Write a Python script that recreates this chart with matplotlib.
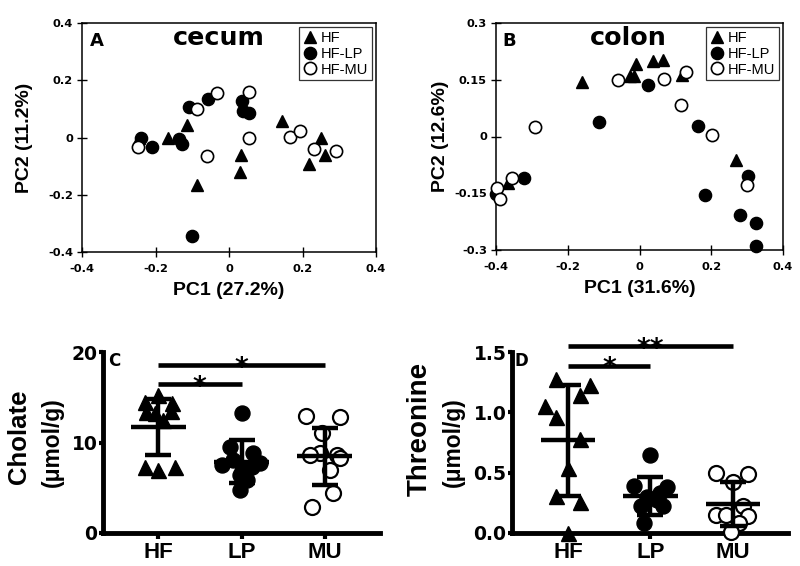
import matplotlib
matplotlib.use("Agg")
import matplotlib.pyplot as plt
import numpy as np
from matplotlib.lines import Line2D

plt.rcParams['font.family'] = ['Liberation Sans', 'DejaVu Sans']

# ---------------- data ----------------
# Panel A (cecum) PCA scores
a_hf_x = [-0.245, -0.165, -0.115, -0.086, 0.033, 0.030, 0.143, 0.218, 0.249, 0.260]
a_hf_y = [0.000, 0.000, 0.045, -0.165, -0.060, -0.120, 0.057, -0.092, -0.001, -0.060]
a_lp_x = [-0.239, -0.210, -0.137, -0.128, -0.110, -0.057, 0.036, 0.038, 0.055, -0.102]
a_lp_y = [0.000, -0.034, -0.005, -0.022, 0.108, 0.135, 0.127, 0.091, 0.085, -0.345]
a_mu_x = [-0.247, -0.088, -0.032, -0.061, 0.054, 0.054, 0.166, 0.193, 0.230, 0.290]
a_mu_y = [-0.034, 0.099, 0.155, -0.066, 0.158, 0.000, 0.001, 0.021, -0.041, -0.047]

# Panel B (colon) PCA scores
b_hf_x = [-0.160, -0.026, -0.011, -0.014, 0.037, 0.066, 0.119, 0.268, -0.367]
b_hf_y = [0.144, 0.159, 0.191, 0.159, 0.200, 0.201, 0.163, -0.061, -0.122]
b_lp_x = [-0.399, -0.321, -0.113, 0.025, 0.164, 0.182, 0.303, 0.280, 0.324, 0.324]
b_lp_y = [-0.153, -0.109, 0.039, 0.135, 0.027, -0.155, -0.104, -0.208, -0.228, -0.289]
b_mu_x = [-0.397, -0.390, -0.355, -0.290, -0.059, 0.068, 0.130, 0.117, 0.203, 0.300]
b_mu_y = [-0.135, -0.165, -0.111, 0.024, 0.149, 0.152, 0.170, 0.083, 0.004, -0.127]

legend_labels = ["HF", "HF-LP", "HF-MU"]
categories = ["HF", "LP", "MU"]

# Panel C: cholate (umol/g)
c_hf = [15.2, 14.5, 14.4, 13.4, 13.5, 13.3, 12.5, 7.3, 7.0, 7.3]
c_hf_dx = [0.0, -0.16, 0.17, -0.14, 0.15, -0.04, 0.06, -0.16, 0.0, 0.20]
c_lp = [13.3, 9.5, 8.8, 8.1, 7.7, 7.5, 7.3, 6.9, 6.4, 5.9, 4.8]
c_lp_dx = [0.0, -0.14, 0.14, -0.10, 0.22, -0.23, 0.12, 0.0, -0.02, 0.06, -0.02]
c_mu = [12.9, 12.8, 11.0, 8.8, 8.6, 8.6, 8.3, 7.0, 4.4, 2.9]
c_mu_dx = [-0.23, 0.18, -0.03, -0.06, -0.18, 0.14, 0.18, 0.06, 0.10, -0.15]
c_mean = [11.7, 7.9, 8.5]
c_sd = [3.1, 2.35, 3.15]
c_sig = [(0, 1, 16.46, "*"), (0, 2, 18.56, "*")]

# Panel D: threonine (umol/g)
d_hf = [1.28, 1.23, 1.14, 1.05, 0.96, 0.78, 0.54, 0.31, 0.26, 0.00]
d_hf_dx = [-0.14, 0.27, 0.14, -0.28, -0.14, 0.14, 0.0, -0.14, 0.14, 0.0]
d_lp = [0.65, 0.39, 0.38, 0.33, 0.30, 0.27, 0.22, 0.22, 0.08]
d_lp_dx = [0.0, -0.20, 0.20, 0.12, -0.04, 0.08, -0.12, 0.15, -0.08]
d_mu = [0.50, 0.49, 0.42, 0.22, 0.15, 0.15, 0.14, 0.08, 0.01]
d_mu_dx = [-0.20, 0.19, 0.0, 0.12, -0.20, -0.08, 0.19, 0.08, -0.02]
d_mean = [0.767, 0.307, 0.24]
d_sd = [0.46, 0.155, 0.18]
d_sig = [(0, 1, 1.386, "*"), (0, 2, 1.55, "**")]

# ---------------- figure ----------------
W, H = 800, 566
fig = plt.figure(figsize=(W / 100, H / 100), dpi=100)


def px_axes(l, t, r, b):
    return fig.add_axes([l / W, 1 - b / H, (r - l) / W, (b - t) / H])


TICKFONT = dict(family='DejaVu Sans', weight='bold')


def pca_panel(ax, hx, hy, lx, ly, mx, my, ylim, yticks, letter, letter_x,
              title, title_x, xlabel, ylabel):
    ms = 8.8
    ax.plot(hx, hy, '^', color='black', ms=ms, clip_on=False, zorder=3)
    ax.plot(lx, ly, 'o', color='black', ms=ms, clip_on=False, zorder=3)
    ax.plot(mx, my, 'o', mfc='white', mec='black', mew=1.2, ms=ms,
            clip_on=False, zorder=4)
    ax.set_xlim(-0.4, 0.4)
    ax.set_ylim(*ylim)
    xt = [-0.4, -0.2, 0, 0.2, 0.4]
    ax.set_xticks(xt)
    ax.set_xticklabels(['%g' % v for v in xt], **TICKFONT, fontsize=8.2)
    ax.set_yticks(yticks)
    ax.set_yticklabels(['%g' % v for v in yticks], **TICKFONT, fontsize=8.2)
    ax.tick_params(direction='inout', length=7, width=1, pad=3)
    ax.tick_params(axis='x', pad=5)
    for s in ax.spines.values():
        s.set_linewidth(1.1)
    ax.set_xlabel(xlabel, fontsize=14, fontweight='bold')
    ax.set_ylabel(ylabel, fontsize=14, fontweight='bold')
    ax.xaxis.set_label_coords(0.5, -0.13)
    ax.yaxis.set_label_coords(-0.165, 0.5)
    ax.text(letter_x, 0.9, letter, transform=ax.transAxes, fontsize=13,
            fontweight='bold', family='DejaVu Sans', va='baseline', ha='left')
    ax.text(title_x, 0.903, title, transform=ax.transAxes, fontsize=18.3,
            fontweight='bold', family='DejaVu Sans', va='baseline', ha='center')
    handles = [Line2D([], [], marker='^', ls='none', color='black', ms=ms),
               Line2D([], [], marker='o', ls='none', color='black', ms=ms),
               Line2D([], [], marker='o', ls='none', mfc='white', mec='black',
                      mew=1.2, ms=ms)]
    leg = ax.legend(handles, legend_labels, loc='upper right', fontsize=10.5,
                    frameon=True, fancybox=False, edgecolor='black',
                    borderaxespad=0.3, borderpad=0.25, labelspacing=0.12,
                    handlelength=1.0, handletextpad=0.25)
    leg.get_frame().set_linewidth(0.9)


axA = px_axes(82, 23, 376, 252)
pca_panel(axA, a_hf_x, a_hf_y, a_lp_x, a_lp_y, a_mu_x, a_mu_y, (-0.4, 0.4),
          [-0.4, -0.2, 0, 0.2, 0.4], "A", 0.027, "cecum", 0.466,
          "PC1 (27.2%)", "PC2 (11.2%)")

axB = px_axes(496, 23, 783, 250)
pca_panel(axB, b_hf_x, b_hf_y, b_lp_x, b_lp_y, b_mu_x, b_mu_y, (-0.3, 0.3),
          [-0.3, -0.15, 0, 0.15, 0.3], "B", 0.022, "colon", 0.46,
          "PC1 (31.6%)", "PC2 (12.6%)")


def strip_panel(ax, groups, dxs, markers, means, sds, xlim, ylim, yticks, fmt,
                sig, letter, letter_x):
    ms = 10.8
    for i, (vals, dx, m) in enumerate(zip(groups, dxs, markers)):
        x = i + np.array(dx)
        if m == 'open':
            ax.plot(x, vals, 'o', mfc='white', mec='black', mew=1.6, ms=ms,
                    clip_on=False, zorder=3)
        else:
            ax.plot(x, vals, m, color='black', ms=ms, clip_on=False, zorder=3)
    for i, (mn, sd) in enumerate(zip(means, sds)):
        ax.plot([i - 0.33, i + 0.33], [mn, mn], color='black', lw=3.2,
                solid_capstyle='butt', zorder=5)
        ax.errorbar(i, mn, yerr=sd, fmt='none', ecolor='black', elinewidth=3.2,
                    capsize=9.2, capthick=3.2, zorder=5)
    for (g1, g2, y, star) in sig:
        ax.plot([g1, g2], [y, y], color='black', lw=3.3, solid_capstyle='butt',
                clip_on=False, zorder=5)
        ax.annotate(star, xy=((g1 + g2) / 2, y), xytext=(0, -7.6),
                    textcoords='offset points', ha='center', va='baseline',
                    fontsize=19, fontweight='bold', family='DejaVu Sans',
                    annotation_clip=False, zorder=6)
    ax.set_xlim(*xlim)
    ax.set_ylim(*ylim)
    ax.set_xticks(range(len(categories)))
    ax.set_xticklabels(categories, fontsize=16, fontweight='bold')
    ax.set_yticks(yticks)
    ax.set_yticklabels([fmt % v for v in yticks], **TICKFONT, fontsize=13.5)
    ax.spines['top'].set_visible(False)
    ax.spines['right'].set_visible(False)
    ax.spines['left'].set_linewidth(3.5)
    ax.spines['bottom'].set_linewidth(3.5)
    ax.tick_params(axis='y', direction='out', length=3, width=3, pad=1)
    ax.tick_params(axis='x', direction='out', length=4.5, width=3, pad=2)
    ax.text(letter_x, 0.925, letter, transform=ax.transAxes, fontsize=12,
            family='DejaVu Sans', fontweight='bold', va='baseline', ha='left')


axC = px_axes(103, 352, 380, 533)
strip_panel(axC, [c_hf, c_lp, c_mu], [c_hf_dx, c_lp_dx, c_mu_dx],
            ['^', 'o', 'open'], c_mean, c_sd, (-0.66, 2.66), (0, 20),
            [0, 10, 20], '%d', c_sig, "C", 0.02)
fig.text(19 / W, 1 - 437 / H, "Cholate", rotation=90, fontsize=18.5,
         fontweight='bold', ha='center', va='center')
fig.text(52 / W, 1 - 442 / H, "(\u03bcmol/g)", rotation=90, fontsize=16.4,
         fontweight='bold', ha='center', va='center')

axD = px_axes(512, 352, 788, 533)
strip_panel(axD, [d_hf, d_lp, d_mu], [d_hf_dx, d_lp_dx, d_mu_dx],
            ['^', 'o', 'open'], d_mean, d_sd, (-0.68, 2.67), (0, 1.5),
            [0.0, 0.5, 1.0, 1.5], '%.1f', d_sig, "D", 0.008)
fig.text(420 / W, 1 - 429 / H, "Threonine", rotation=90, fontsize=20,
         fontweight='bold', ha='center', va='center')
fig.text(453 / W, 1 - 442 / H, "(\u03bcmol/g)", rotation=90, fontsize=16.4,
         fontweight='bold', ha='center', va='center')

fig.savefig("out.png", dpi=100)
